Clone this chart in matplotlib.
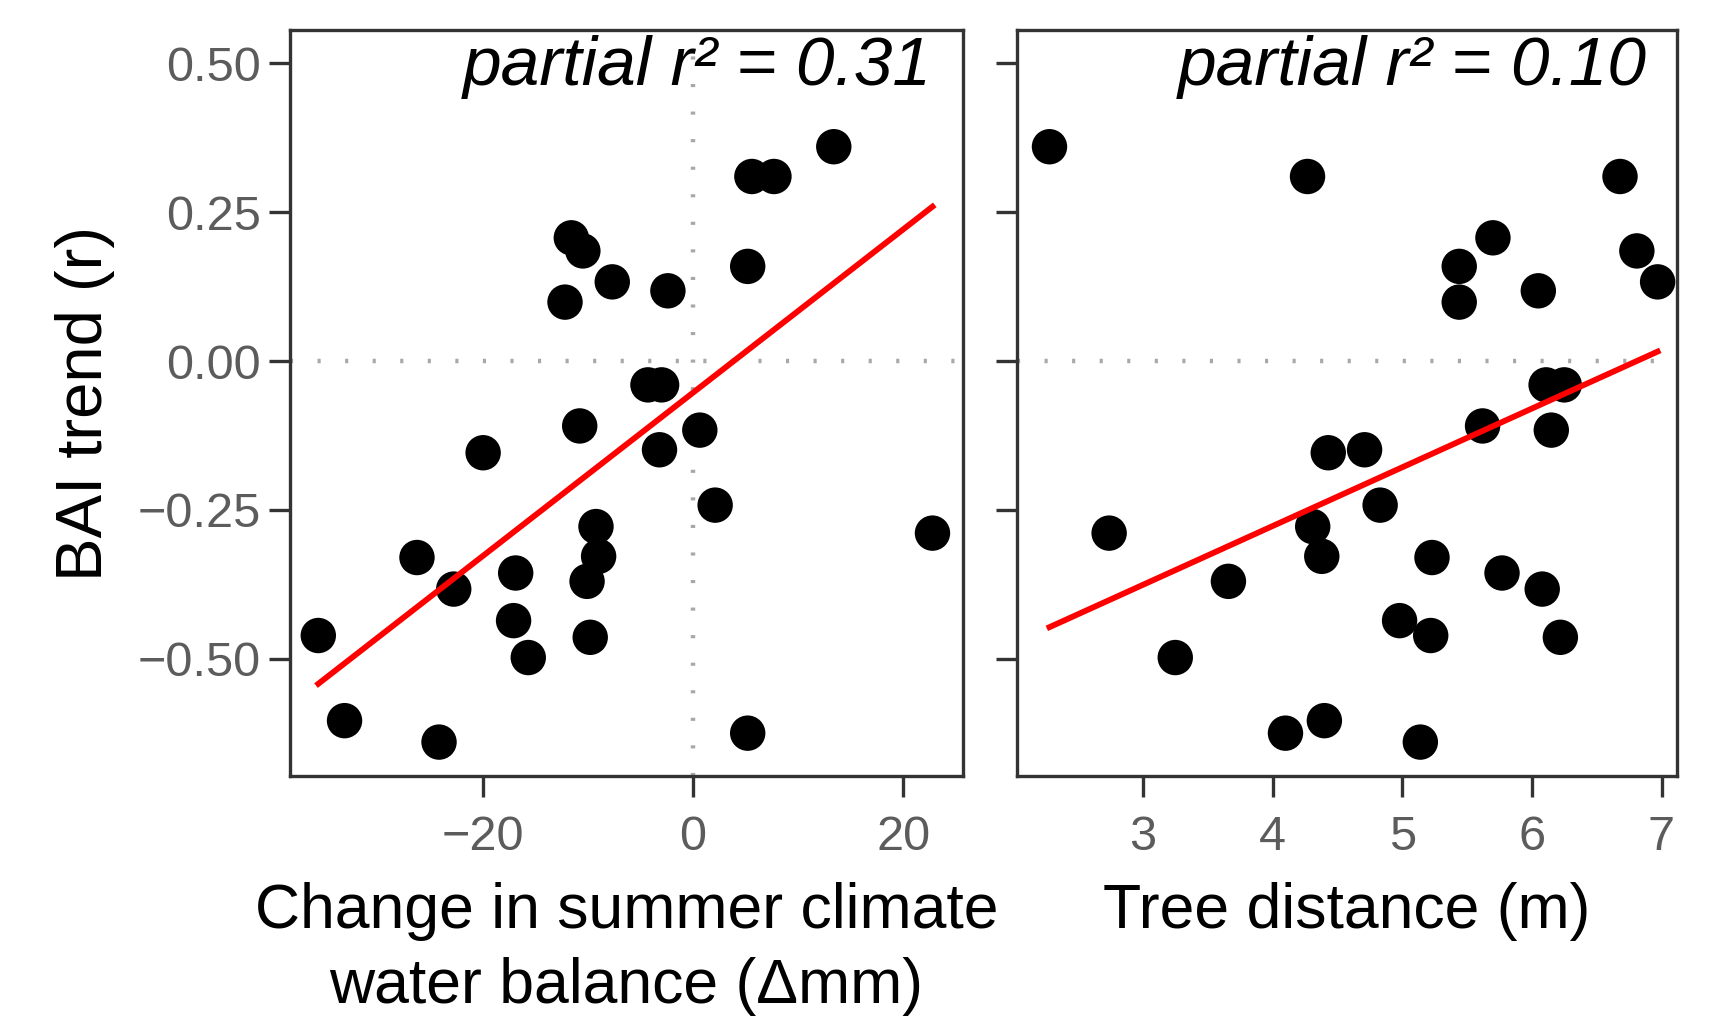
import numpy as np
import matplotlib
matplotlib.use("Agg")
from matplotlib import pyplot as plt

plt.rcParams['font.family'] = ['Liberation Sans', 'DejaVu Sans']

# BAI trend (r), one value per tree, shared by both panels
bai_trend = [0.36, 0.31, 0.31, 0.207, 0.185, 0.133, 0.159, 0.099, 0.118, -0.04,
             -0.04, -0.109, -0.116, -0.149, -0.154, -0.242, -0.278, -0.289, -0.328, -0.330,
             -0.356, -0.370, -0.383, -0.436, -0.461, -0.464, -0.498, -0.604, -0.625, -0.640]
# change in summer climate water balance (delta mm)
cwb_change = [13.4, 5.6, 7.7, -11.6, -10.5, -7.7, 5.2, -12.2, -2.4, -4.3,
              -3.0, -10.8, 0.64, -3.2, -20.0, 2.1, -9.25, 22.8, -9.0, -26.3,
              -16.9, -10.1, -22.8, -17.1, -35.7, -9.8, -15.7, -33.2, 5.2, -24.2]
# tree distance (m)
tree_dist = [2.28, 4.27, 6.68, 5.70, 6.81, 6.97, 5.44, 5.44, 6.05, 6.11,
             6.25, 5.62, 6.15, 4.71, 4.43, 4.83, 4.31, 2.74, 4.38, 5.23,
             5.77, 3.66, 6.08, 4.98, 5.22, 6.22, 3.25, 4.40, 4.10, 5.14]

# fitted lines (intercept, slope)
fit_cwb = (-0.053, 0.0137)
fit_dist = (-0.672, 0.0987)
r2_labels = ["partial r\u00b2 = 0.31", "partial r\u00b2 = 0.10"]

xlabels = ["Change in summer climate\nwater balance (\u0394mm)", "Tree distance (m)"]
yticks = [-0.50, -0.25, 0.00, 0.25, 0.50]

fig = plt.figure(figsize=(17.3, 10.25), dpi=100)
ax1 = fig.add_axes([0.1676, 0.2429, 0.389, 0.7278])
ax2 = fig.add_axes([0.5879, 0.2429, 0.3815, 0.7278])

edge = '#333333'
tick_col = '#5c5c5c'
dot_col = '#a8a8a8'

panels = [(ax1, cwb_change, fit_cwb, (-38.4, 25.7), [-20, 0, 20]),
          (ax2, tree_dist, fit_dist, (2.03, 7.12), [3, 4, 5, 6, 7])]

for i, (ax, xs, fit, xlim, xt) in enumerate(panels):
    ax.axhline(0, color=dot_col, lw=3.2, ls=(0, (0.7, 5.5)), zorder=1)
    if i == 0:
        ax.axvline(0, color=dot_col, lw=3.2, ls=(0, (0.7, 5.5)), zorder=1)
    ax.scatter(xs, bai_trend, s=650, color='black', edgecolors='none', zorder=3)
    xx = np.array([min(xs), max(xs)])
    ax.plot(xx, fit[0] + fit[1] * xx, color='red', lw=4.2, zorder=4)
    ax.set_xlim(*xlim)
    ax.set_ylim(-0.697, 0.556)
    ax.set_xticks(xt)
    ax.set_yticks(yticks)
    ax.set_yticklabels(['\u22120.50', '\u22120.25', '0.00', '0.25', '0.50'])
    ax.set_xticklabels([str(v).replace('-', '\u2212') for v in xt])
    for sp in ax.spines.values():
        sp.set_color(edge)
        sp.set_linewidth(2.4)
    ax.tick_params(length=15, width=2.4, color=edge, labelcolor=tick_col,
                   labelsize=35, pad=6)
    ax.tick_params(axis='x', pad=13)
    ax.set_xlabel(xlabels[i], fontsize=45, labelpad=16, linespacing=1.35)
    ax.text(0.954, 0.993, r2_labels[i], transform=ax.transAxes, ha='right', va='top',
            fontsize=50, style='italic')

ax2.tick_params(axis='y', labelleft=False)
ax1.set_ylabel("BAI trend (r)", fontsize=47, labelpad=16)

fig.savefig("out.png", dpi=100)
